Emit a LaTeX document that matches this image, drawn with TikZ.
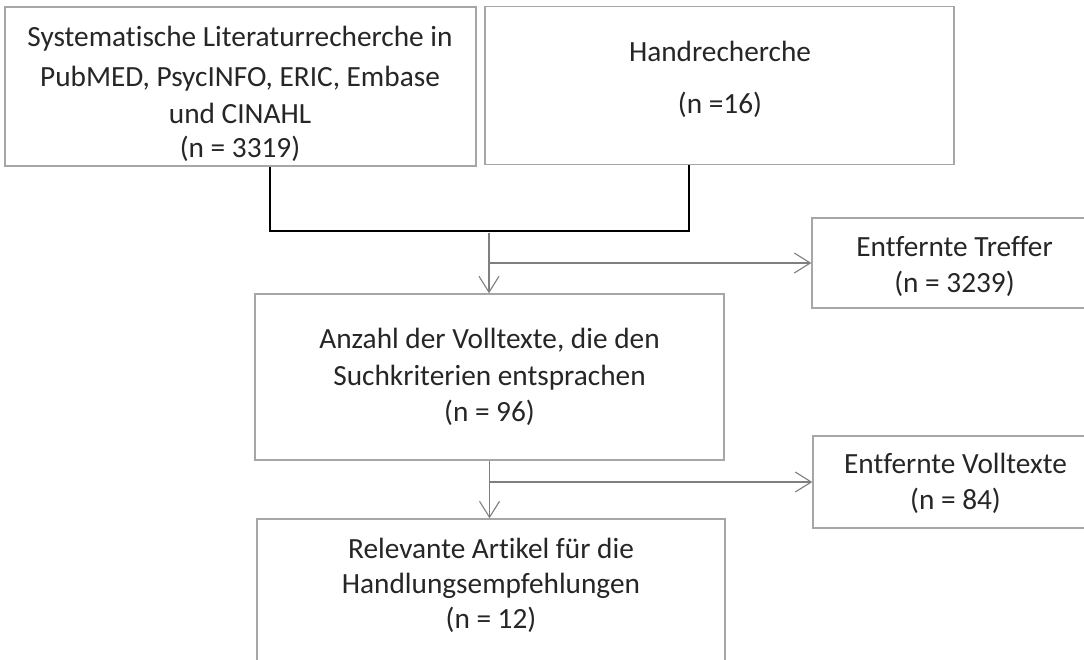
\documentclass[tikz,border=0pt]{standalone}
\usepackage{fontspec}
\setmainfont[Ligatures={NoCommon}]{Carlito}
\usetikzlibrary{arrows.meta}
\definecolor{boxgray}{HTML}{A6A6A6}
\definecolor{arrgray}{HTML}{7F7F7F}
\tikzset{
  box/.style={draw=boxgray, line width=1.4pt, rectangle, inner sep=0pt},
  txt/.style={anchor=base, inner sep=0pt, font=\fontsize{29.3}{37}\selectfont, text=black!85},
  arr/.style={draw=arrgray, line width=1.1pt, -{Straight Barb[length=16pt,width=20pt,line width=1.1pt]}},
  joinline/.style={draw=black, line width=2.4pt}
}
\begin{document}
\begin{tikzpicture}[x=1pt,y=-1pt]
\clip (0,0) rectangle (1084,659);
\fill[white] (0,0) rectangle (1084,659);
% boxes
\node[box, minimum width=471pt, minimum height=159pt] (sys) at (240.5,86.5) {};
\node[box, minimum width=469pt, minimum height=158pt] (hand) at (719.5,85.5) {};
\node[box, minimum width=285pt, minimum height=90pt] (treffer) at (954.5,263) {};
\node[box, minimum width=469pt, minimum height=166pt] (voll) at (489.5,377) {};
\node[box, minimum width=285pt, minimum height=92pt] (entv) at (955.5,482) {};
\node[box, minimum width=468pt, minimum height=200pt] (rel) at (491,619) {};
% texts
\node[txt] (s1) at (240,46) {Systematische Literaturrecherche in};
\node[txt] (s2) at (240,86) {PubMED, PsycINFO, ERIC, Embase};
\node[txt] (s3) at (240,123) {und CINAHL};
\node[txt] (s4) at (240,157) {(n = 3319)};
\node[txt] (h1) at (720,61) {Handrecherche};
\node[txt] (h2) at (720,113) {(n =16)};
\node[txt] (t1) at (954.5,256) {Entfernte Treffer};
\node[txt] (t2) at (954.5,292) {(n = 3239)};
\node[txt] (v1) at (489.5,348) {Anzahl der Volltexte, die den};
\node[txt] (v2) at (489.5,385) {Suchkriterien entsprachen};
\node[txt] (v3) at (489.5,421) {(n = 96)};
\node[txt] (e1) at (955.5,473) {Entfernte Volltexte};
\node[txt] (e2) at (955.5,509) {(n = 84)};
\node[txt] (r1) at (491,558) {Relevante Artikel für die};
\node[txt] (r2) at (491,593) {Handlungsempfehlungen};
\node[txt] (r3) at (491,628) {(n = 12)};
% connectors
\coordinate (jm) at (489,231);
\coordinate (js) at (489,233);
\draw[joinline] ([xshift=29.5pt]sys.south) |- (jm) -| ([xshift=-30.5pt]hand.south);
\draw[arr] (js) -- (js |- voll.north);
\draw[arr] (js |- treffer.west) -- (treffer.west);
\draw[arr] (voll.south) -- (voll.south |- rel.north);
\draw[arr] (voll.south |- entv.west) -- (entv.west);
\end{tikzpicture}
\end{document}
